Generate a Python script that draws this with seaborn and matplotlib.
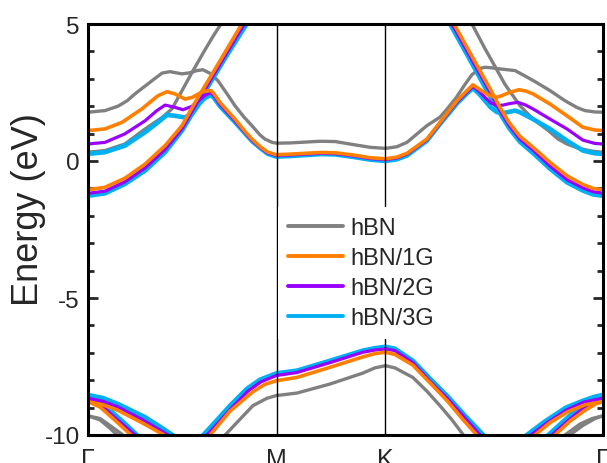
import numpy as np
import pandas as pd
import matplotlib
matplotlib.use("Agg")
import matplotlib.pyplot as plt
from matplotlib.lines import Line2D
from matplotlib.ticker import MultipleLocator
import seaborn as sns

# ---------------- data (k-path distance, energy in eV) ----------------
K_TICKS = [0.0, 0.5774, 0.9107, 1.5774]
K_LABELS = ["Γ", "M", "K", "Γ"]
SYSTEMS = ["hBN", "hBN/1G", "hBN/2G", "hBN/3G"]

# hBN (gray)
HBN_CB_MAIN = [(0, 1.78), (.052, 1.84), (.092, 2.0), (.120, 2.2), (.144, 2.45), (.196, 2.93), (.227, 3.21),
               (.251, 3.26), (.288, 3.18), (.312, 3.22), (.334, 3.30), (.352, 3.33), (.374, 3.2), (.398, 2.93),
               (.426, 2.45), (.450, 2.02), (.478, 1.6), (.502, 1.29), (.527, 0.95), (.542, 0.80), (.564, 0.68),
               (.577, 0.65), (.619, 0.66), (.711, 0.72), (.757, 0.71), (.812, 0.60), (.864, 0.50), (.911, 0.46),
               (.946, 0.52), (.977, 0.68), (1.038, 1.29), (1.078, 1.6), (1.100, 1.9), (1.127, 2.3), (1.155, 2.8),
               (1.176, 3.15), (1.201, 3.38), (1.216, 3.42), (1.237, 3.40), (1.262, 3.36), (1.308, 3.30),
               (1.339, 3.1), (1.369, 2.9), (1.415, 2.57), (1.461, 2.2), (1.498, 1.95), (1.522, 1.84),
               (1.553, 1.79), (1.577, 1.78)]
HBN_CB_STEEP_L = [(0, 0.32), (.052, 0.38), (.113, 0.62), (.175, 1.17), (.227, 1.59), (.257, 1.90), (.288, 2.57),
                  (.319, 3.24), (.358, 4.05), (.383, 4.55), (.410, 5.05), (.423, 5.3)]
HBN_CB_STEEP_R = [(1.167, 5.3), (1.176, 5.0), (1.216, 4.1), (1.256, 3.25), (1.277, 2.8), (1.323, 2.02),
                  (1.363, 1.53), (1.409, 1.12), (1.440, 0.8), (1.467, 0.62), (1.507, 0.45), (1.544, 0.36),
                  (1.577, 0.32)]
HBN_VB_MAIN = [(.407, -10.3), (.420, -10), (.466, -9.42), (.505, -8.93), (.548, -8.66), (.577, -8.56),
               (.640, -8.47), (.741, -8.14), (.842, -7.74), (.879, -7.55), (.911, -7.47), (.940, -7.55),
               (.995, -7.90), (1.038, -8.4), (1.078, -8.93), (1.115, -9.45), (1.150, -10), (1.161, -10.3)]
HBN_VB_L1 = [(0, -9.3), (.037, -9.4), (.067, -9.65), (.107, -10), (.123, -10.2)]
HBN_VB_L2 = [(0, -9.3), (.037, -9.45), (.067, -9.75), (.089, -10), (.101, -10.2)]
HBN_VB_R1 = [(1.449, -10.2), (1.461, -10), (1.507, -9.6), (1.544, -9.4), (1.577, -9.3)]
HBN_VB_R2 = [(1.464, -10.2), (1.476, -10), (1.516, -9.65), (1.553, -9.4), (1.577, -9.3)]

# hBN/1G (orange)
G1_CB_MAIN = [(0, 1.11), (.052, 1.17), (.104, 1.41), (.165, 1.90), (.214, 2.38), (.242, 2.53), (.266, 2.45),
              (.297, 2.26), (.319, 2.32), (.343, 2.48), (.358, 2.55), (.377, 2.57), (.386, 2.45), (.404, 2.14),
              (.450, 1.53), (.478, 1.12), (.502, 0.80), (.530, 0.50), (.551, 0.32), (.577, 0.23), (.619, 0.25),
              (.711, 0.31), (.757, 0.30), (.812, 0.22), (.864, 0.12), (.911, 0.08), (.946, 0.14), (.977, 0.28),
              (1.038, 0.8), (1.078, 1.41), (1.130, 2.2), (1.161, 2.57), (1.179, 2.78), (1.201, 2.6),
              (1.225, 2.42), (1.247, 2.32), (1.262, 2.36), (1.293, 2.51), (1.320, 2.60), (1.342, 2.55),
              (1.363, 2.45), (1.415, 2.08), (1.467, 1.65), (1.516, 1.23), (1.553, 1.13), (1.577, 1.11)]
G1_CB_STEEP_L = [(0, -1.05), (.052, -0.96), (.113, -0.63), (.175, -0.11), (.236, 0.56), (.288, 1.29),
                 (.328, 2.14), (.374, 3.05), (.423, 4.03), (.471, 5.0), (.486, 5.3)]
G1_CB_STEEP_R = [(1.107, 5.3), (1.121, 5.0), (1.191, 3.5), (1.233, 2.6), (1.262, 1.95), (1.290, 1.4),
                 (1.323, 0.9), (1.363, 0.5), (1.415, -0.05), (1.467, -0.54), (1.516, -0.86), (1.547, -1.0),
                 (1.577, -1.05)]
G1_VB_MAIN = [(.363, -10.3), (.374, -10), (.435, -9.13), (.505, -8.42), (.542, -8.15), (.577, -8.02),
              (.640, -7.9), (.741, -7.53), (.842, -7.15), (.879, -7.03), (.911, -6.98), (.940, -7.06),
              (.995, -7.45), (1.048, -8.1), (1.100, -8.75), (1.146, -9.4), (1.191, -10), (1.201, -10.3)]
G1_VB_L1 = [(0, -8.78), (.046, -8.9), (.092, -9.1), (.165, -9.55), (.233, -10), (.251, -10.2)]
G1_VB_L2 = [(0, -8.78), (.037, -8.98), (.077, -9.4), (.132, -10), (.147, -10.2)]
G1_VB_R1 = [(1.354, -10.2), (1.369, -10), (1.415, -9.55), (1.470, -9.15), (1.522, -8.9), (1.577, -8.78)]
G1_VB_R2 = [(1.418, -10.2), (1.430, -10), (1.476, -9.5), (1.522, -9.1), (1.556, -8.86), (1.577, -8.78)]

# hBN/2G (purple)
G2_CB_MAIN = [(0, 0.62), (.052, 0.68), (.113, 0.99), (.175, 1.47), (.211, 1.84), (.236, 2.04), (.266, 1.96),
              (.291, 1.87), (.319, 2.0), (.343, 2.25), (.361, 2.42), (.377, 2.49), (.386, 2.38), (.404, 2.07),
              (.450, 1.47), (.478, 1.08), (.502, 0.76), (.530, 0.47), (.551, 0.29), (.577, 0.20), (.619, 0.22),
              (.711, 0.28), (.757, 0.27), (.812, 0.19), (.864, 0.09), (.911, 0.05), (.946, 0.11), (.977, 0.25),
              (1.038, 0.77), (1.078, 1.38), (1.130, 2.15), (1.161, 2.52), (1.179, 2.72), (1.198, 2.55),
              (1.216, 2.32), (1.234, 2.12), (1.253, 2.02), (1.271, 2.04), (1.293, 2.10), (1.317, 2.14),
              (1.339, 2.05), (1.363, 1.90), (1.415, 1.53), (1.467, 1.17), (1.516, 0.76), (1.553, 0.64),
              (1.577, 0.62)]
G2_CB_STEEP_L = [(0, -1.18), (.052, -1.10), (.113, -0.76), (.175, -0.25), (.236, 0.42), (.288, 1.18),
                 (.328, 2.0), (.374, 2.93), (.426, 3.97), (.479, 5.0), (.493, 5.3)]
G2_CB_STEEP_R = [(1.101, 5.3), (1.115, 5.0), (1.185, 3.5), (1.230, 2.55), (1.260, 1.88), (1.290, 1.3),
                 (1.323, 0.8), (1.363, 0.4), (1.415, -0.18), (1.467, -0.68), (1.516, -0.98), (1.547, -1.12),
                 (1.577, -1.17)]
G2_VB_MAIN = [(.354, -10.3), (.364, -10), (.392, -9.65), (.441, -9.0), (.490, -8.4), (.530, -8.06),
              (.577, -7.83), (.640, -7.72), (.741, -7.36), (.842, -6.98), (.879, -6.90), (.911, -6.86),
              (.940, -6.92), (.995, -7.36), (1.048, -8.05), (1.100, -8.66), (1.152, -9.35), (1.201, -10),
              (1.211, -10.3)]
G2_VB_L1 = [(0, -8.66), (.046, -8.77), (.092, -8.98), (.168, -9.45), (.245, -10), (.266, -10.2)]
G2_VB_L2 = [(0, -8.66), (.037, -8.86), (.074, -9.28), (.110, -9.65), (.144, -10), (.159, -10.2)]
G2_VB_R1 = [(1.342, -10.2), (1.357, -10), (1.409, -9.53), (1.467, -9.08), (1.519, -8.8), (1.577, -8.66)]
G2_VB_R2 = [(1.409, -10.2), (1.421, -10), (1.470, -9.48), (1.516, -9.03), (1.553, -8.76), (1.577, -8.66)]

# hBN/3G (blue)
G3_CB_MAIN = [(0, 0.26), (.052, 0.32), (.113, 0.56), (.175, 1.05), (.214, 1.41), (.242, 1.68), (.266, 1.65),
              (.297, 1.59), (.319, 1.72), (.343, 2.12), (.358, 2.30), (.377, 2.41), (.386, 2.30), (.404, 2.0),
              (.450, 1.42), (.478, 1.05), (.502, 0.73), (.530, 0.45), (.551, 0.26), (.577, 0.16), (.619, 0.18),
              (.711, 0.25), (.757, 0.24), (.812, 0.15), (.864, 0.05), (.911, 0.0), (.946, 0.06), (.977, 0.2),
              (1.038, 0.74), (1.078, 1.35), (1.130, 2.1), (1.161, 2.47), (1.179, 2.66), (1.198, 2.45),
              (1.216, 2.2), (1.234, 1.95), (1.253, 1.78), (1.271, 1.75), (1.293, 1.80), (1.308, 1.84),
              (1.323, 1.78), (1.363, 1.53), (1.415, 1.17), (1.467, 0.74), (1.516, 0.38), (1.553, 0.28),
              (1.577, 0.26)]
G3_CB_STEEP_L = [(0, -1.27), (.052, -1.18), (.113, -0.84), (.175, -0.35), (.236, 0.32), (.288, 1.11),
                 (.328, 1.90), (.374, 2.85), (.429, 3.93), (.486, 5.0), (.501, 5.3)]
G3_CB_STEEP_R = [(1.095, 5.3), (1.109, 5.0), (1.179, 3.5), (1.225, 2.5), (1.259, 1.8), (1.290, 1.2),
                 (1.323, 0.7), (1.363, 0.29), (1.415, -0.28), (1.467, -0.78), (1.516, -1.08), (1.547, -1.22),
                 (1.577, -1.27)]
G3_VB_MAIN = [(.343, -10.3), (.353, -10), (.384, -9.6), (.435, -8.93), (.486, -8.32), (.527, -7.98),
              (.577, -7.75), (.640, -7.65), (.741, -7.29), (.842, -6.92), (.879, -6.83), (.911, -6.78),
              (.940, -6.85), (.995, -7.29), (1.048, -7.95), (1.100, -8.57), (1.155, -9.3), (1.211, -10),
              (1.222, -10.3)]
G3_VB_L1 = [(0, -8.54), (.046, -8.65), (.092, -8.87), (.175, -9.35), (.221, -9.7), (.259, -10), (.282, -10.2)]
G3_VB_L2 = [(0, -8.54), (.037, -8.75), (.074, -9.17), (.110, -9.55), (.150, -10), (.165, -10.2)]
G3_VB_R1 = [(1.329, -10.2), (1.344, -10), (1.400, -9.5), (1.464, -9.0), (1.516, -8.75), (1.553, -8.6),
            (1.577, -8.54)]
G3_VB_R2 = [(1.397, -10.2), (1.410, -10), (1.461, -9.45), (1.507, -8.95), (1.544, -8.7), (1.577, -8.54)]

BANDS = {
    "hBN": [HBN_CB_MAIN, HBN_CB_STEEP_L, HBN_CB_STEEP_R, HBN_VB_MAIN, HBN_VB_L1, HBN_VB_L2, HBN_VB_R1, HBN_VB_R2],
    "hBN/1G": [G1_CB_MAIN, G1_CB_STEEP_L, G1_CB_STEEP_R, G1_VB_MAIN, G1_VB_L1, G1_VB_L2, G1_VB_R1, G1_VB_R2],
    "hBN/2G": [G2_CB_MAIN, G2_CB_STEEP_L, G2_CB_STEEP_R, G2_VB_MAIN, G2_VB_L1, G2_VB_L2, G2_VB_R1, G2_VB_R2],
    "hBN/3G": [G3_CB_MAIN, G3_CB_STEEP_L, G3_CB_STEEP_R, G3_VB_MAIN, G3_VB_L1, G3_VB_L2, G3_VB_R1, G3_VB_R2],
}

# ---------------- style ----------------
COLORS = {"hBN": "#808080", "hBN/1G": "#ff7f00", "hBN/2G": "#9900ff", "hBN/3G": "#00b0f0"}
WIDTHS = {"hBN": 2.4, "hBN/1G": 2.6, "hBN/2G": 2.3, "hBN/3G": 3.3}
DRAW_ORDER = ["hBN", "hBN/3G", "hBN/2G", "hBN/1G"]

sns.set_style("ticks")
plt.rcParams["font.family"] = ["Liberation Sans", "DejaVu Sans"]

rows = []
for sysname, segs in BANDS.items():
    for i, seg in enumerate(segs):
        for k, e in seg:
            rows.append({"system": sysname, "seg": i, "k": k, "E": e})
df = pd.DataFrame(rows)

fig = plt.figure(figsize=(6.07, 4.64), dpi=100)
ax = fig.add_axes([88 / 607, 1 - 436 / 464, 515 / 607, 411 / 464])

for z, sysname in enumerate(DRAW_ORDER):
    sub = df[df["system"] == sysname]
    sns.lineplot(data=sub, x="k", y="E", units="seg", estimator=None, sort=False,
                 color=COLORS[sysname], lw=WIDTHS[sysname], ax=ax, legend=False,
                 zorder=2 + z * 0.1)

for kx in K_TICKS[1:3]:
    ax.axvline(kx, color="black", lw=1.0, zorder=3)

ax.set_xlim(K_TICKS[0], K_TICKS[-1])
ax.set_ylim(-10, 5)
ax.set_xticks(K_TICKS)
ax.set_xticklabels(K_LABELS, fontsize=18)
ax.tick_params(axis="x", length=0, pad=9)
ax.set_yticks([-10, -5, 0, 5])
ax.set_yticklabels(["-10", "-5", "0", "5"], fontsize=17.5)
ax.yaxis.set_minor_locator(MultipleLocator(1))
ax.tick_params(axis="y", which="major", direction="in", length=7, width=2.0, left=True, right=True, pad=6)
ax.tick_params(axis="y", which="minor", direction="in", length=4.5, width=2.0, left=True, right=True)
ax.set_xlabel("")
ax.set_ylabel("Energy (eV)", fontsize=26)
ax.yaxis.set_label_coords(-0.082, 0.55)
for sp in ax.spines.values():
    sp.set_linewidth(2.2)
    sp.set_color("black")
    sp.set_zorder(6)

handles = [Line2D([], [], color=COLORS[s], lw=2.8) for s in SYSTEMS]
leg = ax.legend(handles, SYSTEMS, loc="upper left", bbox_to_anchor=(0.369, 0.555), borderaxespad=0,
                fontsize=17, handlelength=2.35, handletextpad=0.3, labelspacing=0.34, borderpad=0.42,
                frameon=True, fancybox=False, framealpha=1.0, facecolor="white", edgecolor="none")
leg.set_zorder(5)

fig.savefig("out.png", dpi=100)
